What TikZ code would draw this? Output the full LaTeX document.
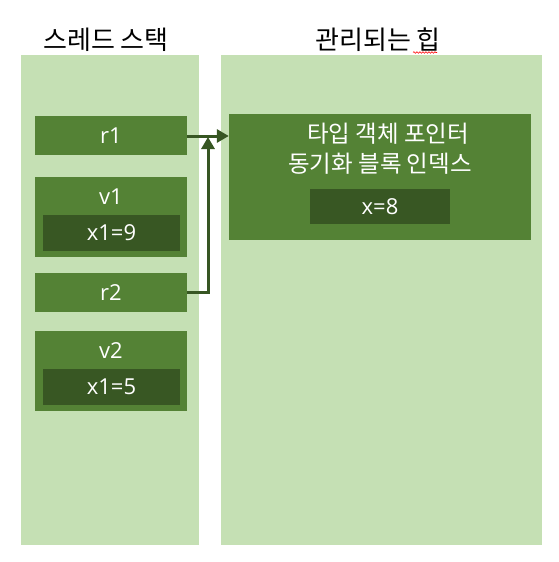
\documentclass[tikz,border=0pt]{standalone}
\usepackage{fontspec}
\setmainfont{Noto Sans CJK KR}
\newfontfamily\latinfont{Open Sans}
\usetikzlibrary{arrows.meta,decorations.pathmorphing}

\definecolor{paleGreen}{HTML}{C5E0B4}
\definecolor{cellGreen}{HTML}{548235}
\definecolor{fieldGreen}{HTML}{385723}
\definecolor{ptrGreen}{HTML}{375623}

\tikzset{
    column/.style={fill=paleGreen, draw=none},
    cell/.style={fill=cellGreen, text=white, inner sep=0pt,
        minimum width=152pt, minimum height=39pt, font=\latinfont\fontsize{22}{24}\selectfont},
    field/.style={fill=fieldGreen, text=white, inner sep=0pt,
        minimum width=137pt, minimum height=36pt, font=\latinfont\fontsize{22}{24}\selectfont},
    celltext/.style={text=white, inner sep=0pt, font=\latinfont\fontsize{22}{24}\selectfont},
    heaptext/.style={text=white, inner sep=0pt, font=\fontsize{23.5}{26}\selectfont},
    heading/.style={inner sep=0pt, font=\fontsize{26}{28}\selectfont},
    pointer/.style={draw=ptrGreen, line width=3pt,
        -{Triangle[length=12pt, width=13pt]}}
}

\begin{document}
\begin{tikzpicture}[x=1pt, y=-1pt]
    \useasboundingbox (0,0) rectangle (558,562);

    % columns
    \fill[column] (21,55) rectangle (199,545);
    \fill[column] (221,55) rectangle (542,545);
    \node[heading] (stackTitle) at (106,40) {스레드 스택};
    \node[heading] (heapTitle) at (378,40) {관리되는 힙};
    \draw[red, line width=0.6pt, decorate,
        decoration={snake, amplitude=0.8pt, segment length=3pt}]
        (413,52.5) -- (437,52.5);

    % stack
    \node[cell] (r1) at (111,135.5) {r1};
    \node[cell, minimum height=80pt] (v1) at (111,217) {};
    \node[celltext] (v1name) at (111,197) {v1};
    \node[field] (v1x) at (111.5,232.5) {x1=9};
    \node[cell] (r2) at (111,292.5) {r2};
    \node[cell, minimum height=80pt] (v2) at (111,370.5) {};
    \node[celltext] (v2name) at (111,351) {v2};
    \node[field] (v2x) at (111.5,386.5) {x1=5};

    % heap
    \node[cell, minimum width=302pt, minimum height=126pt] (obj) at (380,177) {};
    \node[heaptext] (objtype) at (388,134) {타입 객체 포인터};
    \node[heaptext] (objsync) at (380,164) {동기화 블록 인덱스};
    \node[field, minimum width=140pt, minimum height=35pt] (objx) at (380,206.5) {x=8};

    % references
    \coordinate (bend) at (208,137);
    \draw[pointer] (r1.east |- 0,136) -- (obj.west |- 0,136);
    \draw[pointer] (r2.east) -| (bend);
\end{tikzpicture}
\end{document}
